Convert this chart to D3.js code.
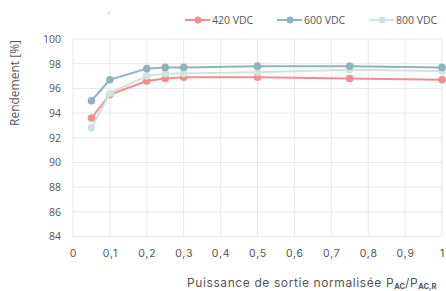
<!DOCTYPE html>
<meta charset="utf-8">
<script src="https://d3js.org/d3.v7.min.js"></script>
<style>
  body { margin: 0; background: #fff; }
</style>
<div id="my_dataviz"></div>
<script>
    // data
    var loads = [0.05, 0.1, 0.2, 0.25, 0.3, 0.5, 0.75, 1.0];
    var eff420 = [93.6, 95.5, 96.6, 96.8, 96.9, 96.9, 96.8, 96.7];
    var eff600 = [95.0, 96.7, 97.6, 97.7, 97.7, 97.8, 97.8, 97.7];
    var eff800 = [92.8, 95.6, 97.0, 97.2, 97.2, 97.3, 97.5, 97.4];
    var seriesNames = ["420 VDC", "600 VDC", "800 VDC"];
    var xTicks = [0, 0.1, 0.2, 0.3, 0.4, 0.5, 0.6, 0.7, 0.8, 0.9, 1];
    var yTicks = [84, 86, 88, 90, 92, 94, 96, 98, 100];

    var colors = ["#f28c8e", "#8fb4be", "#cfe4de"];
    var series = [eff420, eff600, eff800].map(function(vals, i) {
        return {name: seriesNames[i], color: colors[i],
                values: loads.map(function(x, j) { return {x: x, y: vals[j]}; })};
    });

    var W = 446, H = 291;
    var svg = d3.select("#my_dataviz")
      .append("svg")
        .attr("width", W)
        .attr("height", H);

    var x = d3.scaleLinear().domain([0, 1]).range([73, 442]);
    var y = d3.scaleLinear().domain([84, 100]).range([236.5, 39]);

    var comma = function(d) { return String(d).replace(".", ","); };

    // gridlines
    svg.append("g")
      .selectAll("line.h")
      .data(yTicks)
      .enter().append("line")
        .attr("x1", x(0)).attr("x2", x(1))
        .attr("y1", function(d) { return y(d); })
        .attr("y2", function(d) { return y(d); })
        .attr("stroke", "#e8e8e8").attr("stroke-width", 1);
    svg.append("g")
      .selectAll("line.v")
      .data(xTicks)
      .enter().append("line")
        .attr("x1", function(d) { return x(d); })
        .attr("x2", function(d) { return x(d); })
        .attr("y1", y(100)).attr("y2", y(84))
        .attr("stroke", "#e8e8e8").attr("stroke-width", 1);

    // small stray mark above the plot
    svg.append("line")
        .attr("x1", x(0.1) - 1).attr("x2", x(0.1) - 1)
        .attr("y1", 11).attr("y2", 15)
        .attr("stroke", "#cccccc");

    // Y axis
    var yAxis = svg.append("g")
        .attr("transform", "translate(" + (x(0) - 12) + ",0)")
        .call(d3.axisLeft(y).tickValues(yTicks).tickSize(0).tickPadding(0));
    yAxis.select(".domain").remove();
    yAxis.selectAll("text")
        .attr("font-family", "Open Sans")
        .attr("font-size", 10.5)
        .attr("fill", "#555");

    // X axis
    var xAxis = svg.append("g")
        .attr("transform", "translate(0," + (y(84) + 13) + ")")
        .call(d3.axisBottom(x).tickValues(xTicks).tickFormat(comma).tickSize(0).tickPadding(0));
    xAxis.select(".domain").remove();
    xAxis.selectAll("text")
        .attr("font-family", "Inter")
        .attr("font-size", 10.5)
        .attr("letter-spacing", 0.8)
        .attr("fill", "#555");

    // axis titles
    svg.append("text")
        .attr("transform", "translate(19,83) rotate(-90)")
        .attr("text-anchor", "middle")
        .attr("font-family", "Open Sans")
        .attr("font-size", 12)
        .attr("fill", "#555")
        .text("Rendement [%]");

    var xt = svg.append("text")
        .attr("x", 187).attr("y", 286.5)
        .attr("font-family", "Inter")
        .attr("font-size", 12)
        .attr("letter-spacing", 0.6)
        .attr("fill", "#555");
    xt.append("tspan").text("Puissance de sortie normalisée P");
    xt.append("tspan").attr("dy", 2.2).attr("font-size", 7.5).attr("font-weight", 700).attr("letter-spacing", 0).text("AC");
    xt.append("tspan").attr("dy", -2.2).text("/P");
    xt.append("tspan").attr("dy", 2.2).attr("font-size", 7.5).attr("font-weight", 700).attr("letter-spacing", 0).text("AC,R");

    // lines
    var lineFun = d3.line()
        .x(function(d) { return x(d.x); })
        .y(function(d) { return y(d.y); });

    // draw 420 first, then 800, then 600 on top
    [series[0], series[2], series[1]].forEach(function(s) {
        var g = svg.append("g");
        g.append("path")
            .attr("d", lineFun(s.values))
            .attr("fill", "none")
            .attr("stroke", s.color)
            .attr("stroke-width", 2);
        g.selectAll("circle")
          .data(s.values)
          .enter().append("circle")
            .attr("cx", function(d) { return x(d.x); })
            .attr("cy", function(d) { return y(d.y); })
            .attr("r", 3.8)
            .attr("fill", s.color);
    });

    // legend
    var legendX = [185, 277, 369];
    var legend = svg.append("g")
      .selectAll("g")
      .data(series)
      .enter().append("g")
        .attr("transform", function(d, i) { return "translate(" + legendX[i] + ",20)"; });
    legend.append("line")
        .attr("x1", 0).attr("x2", 25)
        .attr("stroke", function(d) { return d.color; })
        .attr("stroke-width", 2);
    legend.append("circle")
        .attr("cx", 13).attr("r", 3.5)
        .attr("fill", function(d) { return d.color; });
    legend.append("text")
        .attr("x", 27).attr("y", 3.8)
        .attr("font-family", "Open Sans")
        .attr("font-size", 10.5)
        .attr("fill", "#555")
        .text(function(d) { return d.name; });
</script>
